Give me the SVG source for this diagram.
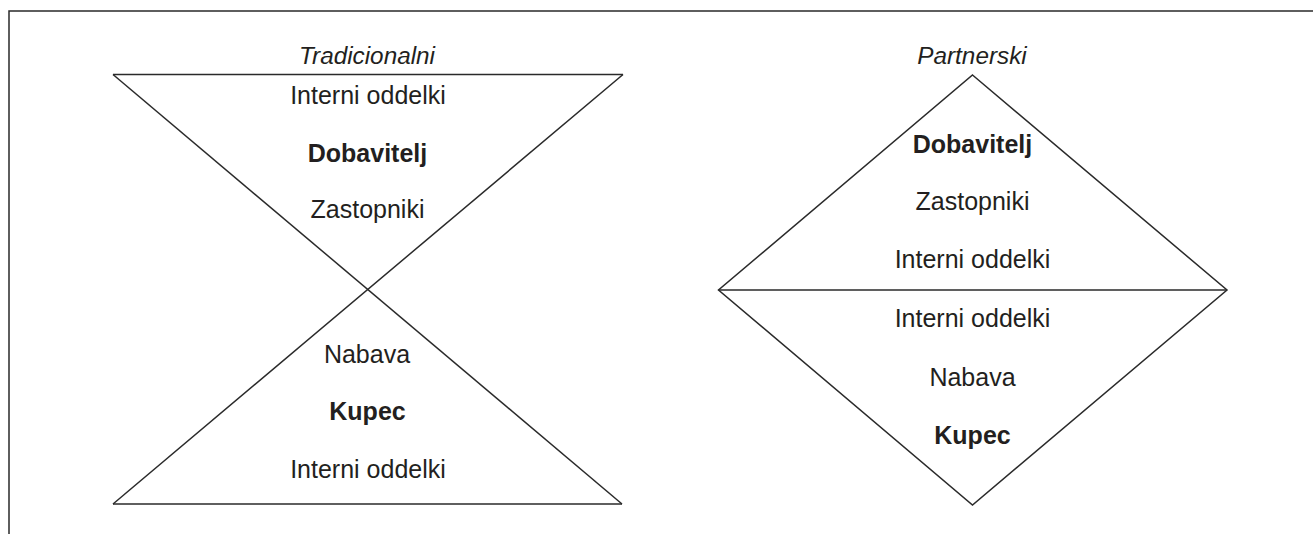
<svg xmlns="http://www.w3.org/2000/svg" width="1313" height="534" viewBox="0 0 1313 534">
<style>
.ln{fill:none;stroke:#2a2a2a;stroke-width:1.5;stroke-linejoin:miter}
.t{font-family:"Liberation Sans",Arial,sans-serif;font-size:25px;fill:#231f20;text-anchor:middle}
.b{font-weight:bold}
.ttl{font-family:"Liberation Sans",Arial,sans-serif;font-size:24.3px;font-style:italic;fill:#231f20;text-anchor:middle}
</style>
<rect width="1313" height="534" fill="#ffffff"/>
<g id="frame">
<polyline class="ln" points="9,534 9,11 1313,11"/>
</g>
<g id="connectors">
<line class="ln" x1="113" y1="74.5" x2="623" y2="74.5"/>
<line class="ln" x1="113" y1="74.5" x2="622" y2="504"/>
<line class="ln" x1="623" y1="74.5" x2="113" y2="504"/>
<line class="ln" x1="113" y1="504" x2="622" y2="504"/>
<polygon class="ln" points="972.5,75 1227,290 972.5,505 718.5,290"/>
<line class="ln" x1="718.5" y1="290" x2="1227" y2="290"/>
</g>
<g id="tradicionalni">
<text class="ttl" x="367" y="64">Tradicionalni</text>
<g id="trad-top">
<text class="t" x="368" y="104">Interni oddelki</text>
<text class="t b" x="367.5" y="162">Dobavitelj</text>
<text class="t" x="367.5" y="218">Zastopniki</text>
</g>
<g id="trad-bottom">
<text class="t" x="367" y="363">Nabava</text>
<text class="t b" x="367.5" y="420">Kupec</text>
<text class="t" x="368" y="478">Interni oddelki</text>
</g>
</g>
<g id="partnerski">
<text class="ttl" x="972" y="63.5">Partnerski</text>
<g id="part-top">
<text class="t b" x="972.5" y="153">Dobavitelj</text>
<text class="t" x="972.5" y="210">Zastopniki</text>
<text class="t" x="972.5" y="268">Interni oddelki</text>
</g>
<g id="part-bottom">
<text class="t" x="972.5" y="327">Interni oddelki</text>
<text class="t" x="972.5" y="386">Nabava</text>
<text class="t b" x="972.5" y="444">Kupec</text>
</g>
</g>
</svg>
